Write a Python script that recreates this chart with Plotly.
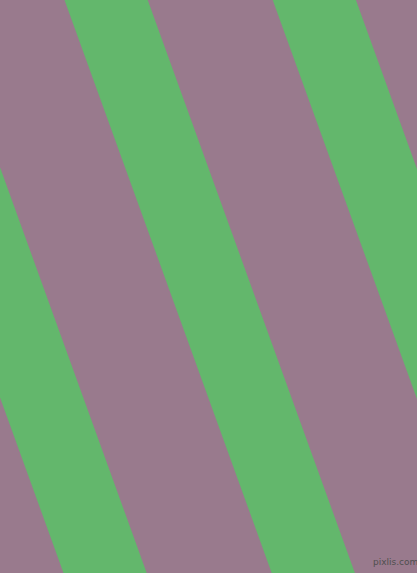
import plotly.graph_objects as go

# stripe left edges where they meet the top of the picture (x in px)
stripe_top_x = [-143.7, 64.5, 272.7]
stripe_width = [83.2, 83.2, 83.2]
stripe_shift = [207.2, 207.2, 207.2]   # how far each stripe moves right from top to bottom

W = 417
H = 573
bg_color = "#997A8D"
stripe_color = "#63B76C"

fig = go.Figure()

for a, w, s in zip(stripe_top_x, stripe_width, stripe_shift):
    xs = [a, a + w, a + w + s, a + s, a]
    ys = [0, 0, H, H, 0]
    fig.add_trace(go.Scatter(x=xs, y=ys, mode="lines", fill="toself",
                             fillcolor=stripe_color, line=dict(width=0, color=stripe_color),
                             hoverinfo="skip", showlegend=False))

fig.add_annotation(x=395.5, y=562, text="pixlis.com", showarrow=False,
                   font=dict(family="DejaVu Sans", size=9, color="#4f4f4f"),
                   xanchor="center", yanchor="middle")

fig.update_xaxes(range=[0, W], visible=False, fixedrange=True)
fig.update_yaxes(range=[H, 0], visible=False, fixedrange=True)
fig.update_layout(width=W, height=H, margin=dict(l=0, r=0, t=0, b=0),
                  plot_bgcolor=bg_color, paper_bgcolor=bg_color)

# drop the page's default body margin so the figure sits at the corner
fig.write_html("out.html", config={"displayModeBar": False},
               post_script="document.body.style.margin='0';document.body.style.overflow='hidden';")
